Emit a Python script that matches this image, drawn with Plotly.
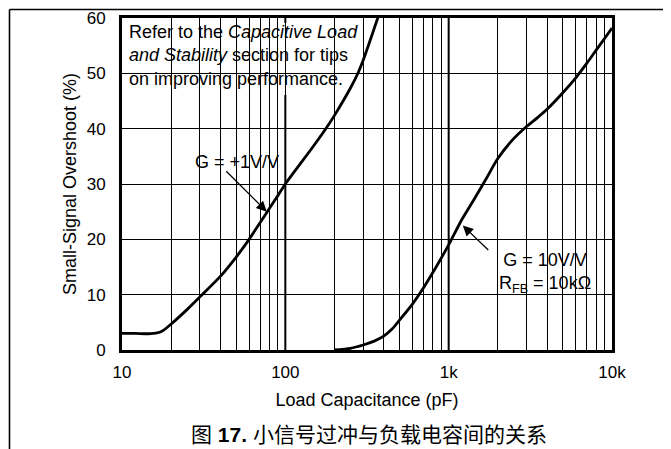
import math
import plotly.graph_objects as go

# ---- data ----
cap_g1 = [10, 12, 15, 17, 18, 20, 25, 30, 40, 50, 60, 70, 80, 90, 100, 150, 179, 200, 250, 280, 300, 340, 371, 400]
os_g1 = [3.0, 3.0, 2.95, 3.2, 3.6, 4.7, 7.3, 9.6, 13.3, 16.8, 20.0, 23.0, 25.6, 27.9, 30.0, 37.0, 40.2, 42.4, 47.3, 50.2, 52.4, 57.0, 60.3, 63.0]

cap_g10 = [200, 250, 300, 350, 400, 450, 500, 600, 700, 800, 900, 1000, 1200, 1450, 1700, 2000, 2500, 3000, 3500, 4000, 5000, 6000, 7000, 8000, 9000, 10000]
os_g10 = [0.0, 0.3, 0.9, 1.6, 2.5, 3.8, 5.4, 8.3, 11.2, 14.0, 16.6, 19.0, 23.5, 27.5, 31.0, 34.6, 38.2, 40.4, 42.0, 43.5, 46.5, 49.2, 51.8, 54.2, 56.3, 58.2]

x_tick_vals = [10, 20, 30, 40, 50, 60, 70, 80, 90,
               100, 200, 300, 400, 500, 600, 700, 800, 900,
               1000, 2000, 3000, 4000, 5000, 6000, 7000, 8000, 9000, 10000]
x_tick_text = ["10", "", "", "", "", "", "", "", "",
               "100", "", "", "", "", "", "", "", "",
               "1k", "", "", "", "", "", "", "", "", "10k"]
y_tick_vals = [0, 10, 20, 30, 40, 50, 60]
major_lines = [100, 1000]

FONT = "Liberation Sans, Arial, sans-serif"

# page offset of the figure inside the browser window (default body margin)
OFF = 8
W, H = 671 - OFF, 449 - OFF
# plot area in window pixels
L, R, T, B = 122, 612, 18, 350
def px(xs):
    return (xs - L) / (R - L)
def py(ys):
    return (B - ys) / (B - T)

fig = go.Figure()
fig.add_trace(go.Scatter(x=cap_g1, y=os_g1, mode="lines", hoverinfo="skip",
                         line=dict(color="black", width=2.8, shape="spline", smoothing=0.7)))
fig.add_trace(go.Scatter(x=cap_g10, y=os_g10, mode="lines", hoverinfo="skip",
                         line=dict(color="black", width=2.8, shape="spline", smoothing=0.7)))

shapes = []
for v in major_lines:
    shapes.append(dict(type="line", xref="x", yref="paper", x0=v, x1=v, y0=0, y1=1,
                       line=dict(color="black", width=2), layer="between"))
# white backgrounds behind texts
for (x0, x1, y0, y1) in [(127, 355, 23, 95), (493, 598, 247, 300), (189, 283, 150, 173)]:
    shapes.append(dict(type="rect", xref="paper", yref="paper",
                       x0=px(x0), x1=px(x1), y0=py(y1), y1=py(y0),
                       fillcolor="white", line=dict(width=0), layer="between"))
# outer figure frame
shapes.append(dict(type="line", xref="paper", yref="paper", x0=px(9.5), x1=px(9.5), y0=py(9.5), y1=py(449),
                   line=dict(color="black", width=1.6), layer="above"))
shapes.append(dict(type="line", xref="paper", yref="paper", x0=px(9.5), x1=px(671), y0=py(9.5), y1=py(9.5),
                   line=dict(color="black", width=1.6), layer="above"))
shapes.append(dict(type="line", xref="paper", yref="paper", x0=px(667), x1=px(667), y0=py(9.5), y1=py(378),
                   line=dict(color="black", width=1.6), layer="above"))

annotations = [
    dict(xref="paper", yref="paper", x=px(127), y=py(56), xanchor="left", yanchor="middle",
         align="left", showarrow=False, font=dict(family=FONT, size=18, color="black"),
         text="Refer to the <i>Capacitive Load</i><br><i>and Stability</i> section for tips<br>on improving performance."),
    dict(xref="paper", yref="paper", x=px(237), y=py(162), xanchor="center", yanchor="middle",
         showarrow=False, font=dict(family=FONT, size=18, color="black"), text="G = +1V/V"),
    dict(xref="x", yref="y", x=math.log10(77), y=25, text="", showarrow=True,
         ax=-42, ay=-42, arrowhead=2, arrowsize=1.6, arrowwidth=1.3, arrowcolor="black"),
    dict(xref="paper", yref="paper", x=px(545), y=py(273), xanchor="center", yanchor="middle",
         align="center", showarrow=False, font=dict(family=FONT, size=18, color="black"),
         text="G = 10V/V<br>R<sub>FB</sub> = 10kΩ"),
    dict(xref="x", yref="y", x=math.log10(1220), y=22.5, text="", showarrow=True,
         ax=27, ay=26, arrowhead=2, arrowsize=1.6, arrowwidth=1.3, arrowcolor="black"),
    dict(xref="paper", yref="paper", x=px(369), y=py(434), xanchor="center", yanchor="middle",
         showarrow=False, font=dict(family="Liberation Sans, Noto Sans CJK SC, sans-serif", size=21, color="black"),
         text="图 <b>17.</b> 小信号过冲与负载电容间的关系"),
]

fig.update_layout(
    width=W, height=H, autosize=False,
    margin=dict(l=L - OFF, r=671 - R, t=T - OFF, b=449 - B, pad=0),
    paper_bgcolor="white", plot_bgcolor="white", showlegend=False,
    font=dict(family=FONT, color="black"),
    shapes=shapes, annotations=annotations,
    xaxis=dict(type="log", range=[1, 4], tickvals=x_tick_vals, ticktext=x_tick_text,
               showgrid=True, gridcolor="black", gridwidth=1,
               showline=True, linecolor="black", linewidth=3, mirror=True,
               ticks="", ticklabelstandoff=5, tickfont=dict(size=17, family=FONT, color="black"),
               automargin=False,
               title=dict(text="Load Capacitance (pF)", standoff=12,
                          font=dict(size=18, family=FONT, color="black"))),
    yaxis=dict(range=[0, 60], tickvals=y_tick_vals, zeroline=False,
               showgrid=True, gridcolor="black", gridwidth=1,
               showline=True, linecolor="black", linewidth=3, mirror=True,
               ticks="", ticklabelstandoff=10, tickfont=dict(size=17, family=FONT, color="black"),
               automargin=False,
               title=dict(text="Small-Signal Overshoot (%)", standoff=6,
                          font=dict(size=18, family=FONT, color="black"))),
)

fig.write_html("out.html")
